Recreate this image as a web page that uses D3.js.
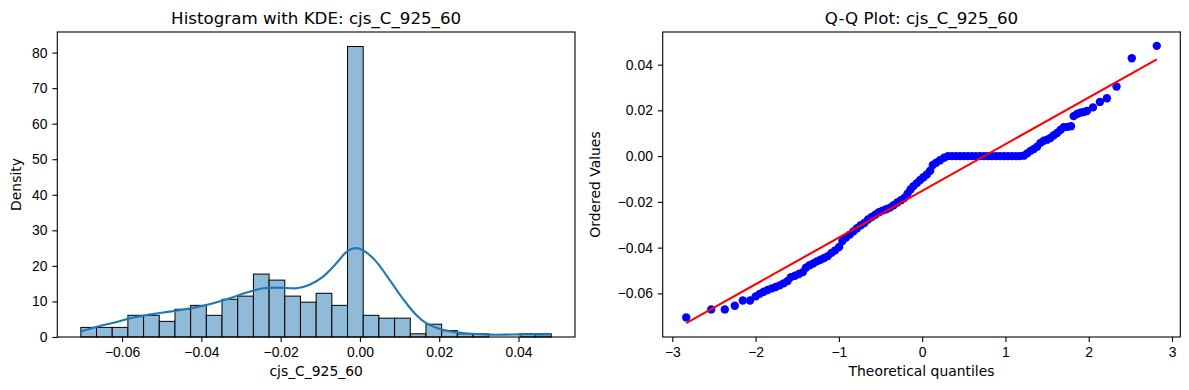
<!DOCTYPE html>
<html>
<head>
<meta charset="utf-8">
<script src="https://cdn.jsdelivr.net/npm/d3@7"></script>
<style>
  body { margin: 0; background: #fff; }
  svg { display: block; font-family: "DejaVu Sans", sans-serif; }
</style>
</head>
<body>
<div id="chart"></div>
<script>
const WIDTH = 1189
const HEIGHT = 390

// histogram: bin start / width and density per bin
const binLow = -0.0704
const binStep = 0.003957
const binDensity = [2.7, 2.7, 2.7, 6.1, 6.1, 4.4, 7.8, 8.9, 6.1, 10.6,
    11.5, 17.7, 16.0, 11.5, 9.8, 12.3, 8.9, 81.7, 6.1, 5.3,
    5.3, 0.9, 3.6, 1.8, 0.9, 0.9, 0, 0, 0.9, 0.9]

// kde curve
const kdeX = [-0.0705, -0.0663, -0.0621, -0.0579, -0.0537, -0.0495, -0.0453, -0.0411, -0.0370, -0.0328,
    -0.0286, -0.0244, -0.0202, -0.0160, -0.0127, -0.0093, -0.0059, -0.0030, -0.0009, 0.0016,
    0.0041, 0.0066, 0.0092, 0.0117, 0.0142, 0.0167, 0.0200, 0.0242, 0.0284, 0.0326,
    0.0368, 0.0402, 0.0444, 0.0484]
const kdeY = [1.5, 2.9, 4.0, 5.3, 6.2, 6.9, 7.6, 8.4, 9.5, 10.9,
    12.5, 13.7, 13.9, 13.7, 14.7, 17.0, 20.8, 24.3, 25.0, 23.8,
    21.2, 17.5, 13.3, 9.5, 6.2, 3.9, 2.3, 1.3, 0.9, 0.66,
    0.66, 0.75, 0.75, 0.75]

// q-q plot: theoretical quantiles and ordered values
const qqTheo = [-2.833, -2.533, -2.370, -2.250, -2.154, -2.067, -1.999, -1.951, -1.903, -1.855,
    -1.807, -1.759, -1.712, -1.664, -1.616, -1.576, -1.528, -1.480, -1.432, -1.396,
    -1.352, -1.309, -1.265, -1.221, -1.177, -1.133, -1.089, -1.045, -0.997, -0.958,
    -0.914, -0.870, -0.826, -0.782, -0.738, -0.694, -0.650, -0.606, -0.563, -0.519,
    -0.475, -0.431, -0.387, -0.343, -0.299, -0.255, -0.215, -0.176, -0.140, -0.104,
    -0.064, -0.024, 0.016, 0.056, 0.096, 0.128, 0.168, 0.215, 0.263, 0.311,
    0.359, 0.407, 0.455, 0.503, 0.551, 0.598, 0.646, 0.694, 0.742, 0.790,
    0.838, 0.886, 0.934, 0.981, 1.029, 1.077, 1.125, 1.173, 1.221, 1.261,
    1.301, 1.341, 1.380, 1.420, 1.460, 1.500, 1.540, 1.580, 1.620, 1.660,
    1.700, 1.747, 1.787, 1.819, 1.859, 1.899, 1.939, 1.979, 2.051, 2.134,
    2.218, 2.334, 2.517, 2.817]
const qqOrdered = [-0.0705, -0.0670, -0.0670, -0.0654, -0.0631, -0.0631, -0.0613, -0.0602, -0.0593, -0.0585,
    -0.0578, -0.0572, -0.0565, -0.0556, -0.0546, -0.0529, -0.0523, -0.0515, -0.0507, -0.0488,
    -0.0477, -0.0469, -0.0460, -0.0453, -0.0445, -0.0437, -0.0423, -0.0412, -0.0397, -0.0371,
    -0.0356, -0.0343, -0.0329, -0.0315, -0.0302, -0.0292, -0.0277, -0.0266, -0.0256, -0.0245,
    -0.0238, -0.0232, -0.0225, -0.0215, -0.0203, -0.0193, -0.0183, -0.0164, -0.0146, -0.0131,
    -0.0118, -0.0104, -0.0092, -0.0080, -0.0064, -0.0039, -0.0029, -0.0018, -0.0007, 0,
    0, 0, 0, 0, 0, 0, 0, 0, 0, 0,
    0, 0, 0, 0, 0, 0, 0, 0, 0.0002, 0.0012,
    0.0023, 0.0031, 0.0041, 0.0058, 0.0067, 0.0072, 0.0079, 0.0091, 0.0101, 0.0114,
    0.0126, 0.0128, 0.0131, 0.0175, 0.0184, 0.0190, 0.0193, 0.0197, 0.0213, 0.0237,
    0.0253, 0.0304, 0.0428, 0.0482]

// fitted line end points
const fitTheo = [-2.833, 2.817]
const fitOrdered = [-0.0730, 0.0423]

const histTicksX = [-0.06, -0.04, -0.02, 0.00, 0.02, 0.04]
const histTicksY = [0, 10, 20, 30, 40, 50, 60, 70, 80]
const qqTicksX = [-3, -2, -1, 0, 1, 2, 3]
const qqTicksY = [-0.06, -0.04, -0.02, 0.00, 0.02, 0.04]

const FONT = 13.9
const TICK = 4.9
const PAD = 4.9

const svg = d3.select("#chart").append("svg")
    .attr("width", WIDTH)
    .attr("height", HEIGHT)

function pad(lo, hi) {
    const m = (hi - lo) * 0.05
    return [lo - m, hi + m]
}

function styleAxis(g) {
    g.select(".domain").remove()
    g.selectAll(".tick line").attr("stroke", "#000").attr("stroke-width", 1.1)
    g.selectAll(".tick text").attr("fill", "#000").style("font-size", FONT + "px")
}

function drawFrame(g, w, h, title, xlab, ylab, ylabX) {
    g.append("rect")
        .attr("x", 0).attr("y", 0)
        .attr("width", w).attr("height", h)
        .attr("fill", "none")
        .attr("stroke", "#000")
        .attr("stroke-width", 1.1)
    g.append("text")
        .attr("x", w / 2).attr("y", -8.5)
        .attr("text-anchor", "middle")
        .style("font-size", "16.7px")
        .text(title)
    g.append("text")
        .attr("x", w / 2).attr("y", h + 39)
        .attr("text-anchor", "middle")
        .style("font-size", FONT + "px")
        .text(xlab)
    g.append("text")
        .attr("transform", `translate(${ylabX}, ${h / 2}) rotate(-90)`)
        .attr("text-anchor", "middle")
        .style("font-size", FONT + "px")
        .text(ylab)
}

// ---------- left: histogram + kde ----------
const L = { left: 57.3, top: 32, w: 517.7, h: 305 }
const g1 = svg.append("g").attr("transform", `translate(${L.left}, ${L.top})`)

const binHigh = binLow + binStep * binDensity.length
const x1 = d3.scaleLinear().domain(pad(binLow, binHigh)).range([0, L.w])
const y1 = d3.scaleLinear().domain([0, d3.max(binDensity) * 1.05]).range([L.h, 0])

g1.selectAll("rect.bar")
    .data(binDensity)
    .enter().append("rect")
    .attr("class", "bar")
    .attr("x", (d, i) => x1(binLow + i * binStep))
    .attr("width", (d, i) => x1(binLow + (i + 1) * binStep) - x1(binLow + i * binStep))
    .attr("y", d => y1(d))
    .attr("height", d => L.h - y1(d))
    .attr("fill", "#8fbbd9")
    .attr("stroke", "#000")
    .attr("stroke-width", 1)

const kdeLine = d3.line()
    .x(i => x1(kdeX[i]))
    .y(i => y1(kdeY[i]))
    .curve(d3.curveCatmullRom)

g1.append("path")
    .attr("d", kdeLine(d3.range(kdeX.length)))
    .attr("fill", "none")
    .attr("stroke", "#1f77b4")
    .attr("stroke-width", 2.1)

g1.append("g")
    .attr("transform", `translate(0, ${L.h})`)
    .call(d3.axisBottom(x1).tickValues(histTicksX).tickFormat(d3.format(".2f")).tickSize(TICK).tickPadding(PAD))
    .call(styleAxis)

g1.append("g")
    .call(d3.axisLeft(y1).tickValues(histTicksY).tickFormat(d3.format("d")).tickSize(TICK).tickPadding(PAD))
    .call(styleAxis)

drawFrame(g1, L.w, L.h, "Histogram with KDE: cjs_C_925_60", "cjs_C_925_60", "Density", -36)

// ---------- right: q-q plot ----------
const R = { left: 662.7, top: 32, w: 517.6, h: 305 }
const g2 = svg.append("g").attr("transform", `translate(${R.left}, ${R.top})`)

const x2 = d3.scaleLinear()
    .domain(pad(d3.min(qqTheo.concat(fitTheo)), d3.max(qqTheo.concat(fitTheo))))
    .range([0, R.w])
const y2 = d3.scaleLinear()
    .domain(pad(d3.min(qqOrdered.concat(fitOrdered)), d3.max(qqOrdered.concat(fitOrdered))))
    .range([R.h, 0])

g2.selectAll("circle")
    .data(d3.range(qqTheo.length))
    .enter().append("circle")
    .attr("cx", i => x2(qqTheo[i]))
    .attr("cy", i => y2(qqOrdered[i]))
    .attr("r", 4.2)
    .attr("fill", "#0000ff")

g2.append("line")
    .attr("x1", x2(fitTheo[0])).attr("y1", y2(fitOrdered[0]))
    .attr("x2", x2(fitTheo[1])).attr("y2", y2(fitOrdered[1]))
    .attr("stroke", "#ff0000")
    .attr("stroke-width", 2.1)

g2.append("g")
    .attr("transform", `translate(0, ${R.h})`)
    .call(d3.axisBottom(x2).tickValues(qqTicksX).tickFormat(d3.format("d")).tickSize(TICK).tickPadding(PAD))
    .call(styleAxis)

g2.append("g")
    .call(d3.axisLeft(y2).tickValues(qqTicksY).tickFormat(d3.format(".2f")).tickSize(TICK).tickPadding(PAD))
    .call(styleAxis)

drawFrame(g2, R.w, R.h, "Q-Q Plot: cjs_C_925_60", "Theoretical quantiles", "Ordered Values", -63)
</script>
</body>
</html>
